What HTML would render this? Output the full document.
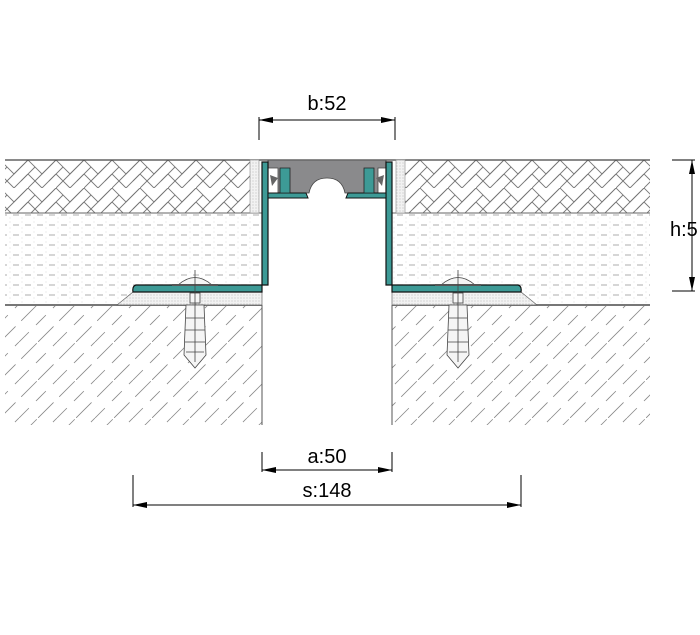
<!DOCTYPE html>
<html><head><meta charset="utf-8"><style>
html,body{margin:0;padding:0;background:#fff;width:700px;height:635px;overflow:hidden}
text{font-family:"Liberation Sans",sans-serif;font-size:20px;fill:#000}
</style></head><body>
<svg width="700" height="635" viewBox="0 0 700 635" xmlns="http://www.w3.org/2000/svg">
<defs>
<pattern id="herr" width="28" height="28" patternUnits="userSpaceOnUse" y="160">
<g stroke="#777" stroke-width="0.9" fill="none">
<path d="M0 0 L14 14 L28 0 M0 14 L14 28 L28 14"/>
<path d="M7 7 L0 14 M21 7 L28 0 M14 14 L21 7 M7 21 L14 14 M21 21 L28 14 M0 28 L7 21"/>
</g></pattern>
<pattern id="dots" width="12" height="10" patternUnits="userSpaceOnUse">
<line x1="1" y1="5" x2="7" y2="5" stroke="#bbb" stroke-width="1.2"/>
<circle cx="10" cy="2" r="0.5" fill="#ccc"/><circle cx="10" cy="8" r="0.5" fill="#ccc"/>
</pattern>
<pattern id="hatch" width="38" height="38" patternUnits="userSpaceOnUse">
<path d="M0 38 L38 0" stroke="#888" stroke-width="0.8" stroke-dasharray="22 8"/>
<path d="M-19 38 L19 0 M19 38 L57 0" stroke="#888" stroke-width="0.8" stroke-dasharray="14 10"/>
</pattern>
<pattern id="fine" width="3" height="3" patternUnits="userSpaceOnUse">
<rect width="3" height="3" fill="#f2f2f2"/><circle cx="1" cy="1" r="0.5" fill="#aaa"/>
</pattern>
<marker id="ar" markerWidth="14" markerHeight="6" refX="14" refY="3" orient="auto" markerUnits="userSpaceOnUse">
<path d="M0 0 L14 3 L0 6 Z" fill="#000"/></marker>
<marker id="al" markerWidth="14" markerHeight="6" refX="0" refY="3" orient="auto" markerUnits="userSpaceOnUse">
<path d="M14 0 L0 3 L14 6 Z" fill="#000"/></marker>
</defs>

<rect x="5" y="160" width="245" height="53" fill="url(#herr)"/>
<rect x="405" y="160" width="245" height="53" fill="url(#herr)"/>
<rect x="5" y="213" width="257" height="92" fill="url(#dots)"/>
<rect x="392" y="213" width="258" height="92" fill="url(#dots)"/>
<rect x="5" y="305" width="257" height="120" fill="url(#hatch)"/>
<rect x="392" y="305" width="258" height="120" fill="url(#hatch)"/>
<line x1="5" y1="160" x2="650" y2="160" stroke="#444" stroke-width="1.2"/>
<line x1="5" y1="213" x2="262" y2="213" stroke="#666" stroke-width="1"/>
<line x1="392" y1="213" x2="650" y2="213" stroke="#666" stroke-width="1"/>
<line x1="5" y1="305" x2="262" y2="305" stroke="#777" stroke-width="2"/>
<line x1="392" y1="305" x2="650" y2="305" stroke="#777" stroke-width="2"/>
<line x1="262" y1="305" x2="262" y2="425" stroke="#555"/>
<line x1="392" y1="305" x2="392" y2="425" stroke="#555"/>
<rect x="250" y="160" width="9" height="53" fill="url(#fine)" stroke="#888" stroke-width="0.6"/>
<rect x="396" y="160" width="9" height="53" fill="url(#fine)" stroke="#888" stroke-width="0.6"/>

<path d="M117 305 L133 292 L262 292 L262 305 Z" fill="url(#fine)" stroke="#666" stroke-width="0.7"/>
<path d="M537 305 L521 292 L392 292 L392 305 Z" fill="url(#fine)" stroke="#666" stroke-width="0.7"/>

<!-- gray insert -->
<path d="M268 160 L386 160 L386 168 L378 168 L378 193 L345 193 Q342 178 327 178 Q312 178 309 193 L278 193 L278 168 L268 168 Z" fill="#8a8a8c" stroke="#444" stroke-width="0.8"/>

<!-- teal profiles -->
<path d="M262 162 L268 162 L268 285 L136 285 Q132 286 133 292 L262 292 Z" fill="#3d9a96" stroke="#111" stroke-width="1.2"/>
<path d="M392 162 L386 162 L386 285 L518 285 Q522 286 521 292 L392 292 Z" fill="#3d9a96" stroke="#111" stroke-width="1.2"/>
<path d="M268 193 L306 193 L308 198 L268 198 Z" fill="#3d9a96" stroke="#111" stroke-width="1"/>
<path d="M386 193 L348 193 L346 198 L386 198 Z" fill="#3d9a96" stroke="#111" stroke-width="1"/>
<path d="M280 168 L290 168 L290 193 L280 193 Z M364 168 L374 168 L374 193 L364 193 Z" fill="#3d9a96" stroke="#222" stroke-width="0.8"/>
<path d="M270 175 L278 178 L272 186 Z M384 175 L376 178 L382 186 Z" fill="#666"/>

<!-- screws & anchors -->
<g stroke="#444" stroke-width="0.8" fill="#f5f5f5">
<path d="M178 285 Q195 270 212 285 Z"/>
<line x1="172" y1="285" x2="218" y2="285" stroke-width="2" stroke="#555"/>
<rect x="190" y="293" width="10" height="10"/>
<path d="M186 305 L204 305 L206 355 L195 368 L184 355 Z"/>
<path d="M186 318 L204 318 M185 330 L205 330 M185 342 L205 342 M186 352 L204 352" fill="none"/>
<line x1="195" y1="270" x2="195" y2="362" fill="none"/>
<path d="M441 285 Q458 270 475 285 Z"/>
<line x1="435" y1="285" x2="481" y2="285" stroke-width="2" stroke="#555"/>
<rect x="453" y="293" width="10" height="10"/>
<path d="M449 305 L467 305 L469 355 L458 368 L447 355 Z"/>
<path d="M449 318 L467 318 M448 330 L468 330 M448 342 L468 342 M449 352 L467 352" fill="none"/>
<line x1="458" y1="270" x2="458" y2="362" fill="none"/>
</g>

<g stroke="#000" stroke-width="1" fill="none">
<line x1="259" y1="117" x2="259" y2="140"/>
<line x1="395" y1="117" x2="395" y2="140"/>
<line x1="259" y1="120" x2="395" y2="120" marker-start="url(#al)" marker-end="url(#ar)"/>
<line x1="262" y1="452" x2="262" y2="472"/>
<line x1="392" y1="452" x2="392" y2="472"/>
<line x1="262" y1="470" x2="392" y2="470" marker-start="url(#al)" marker-end="url(#ar)"/>
<line x1="133" y1="475" x2="133" y2="507"/>
<line x1="521" y1="475" x2="521" y2="507"/>
<line x1="133" y1="505" x2="521" y2="505" marker-start="url(#al)" marker-end="url(#ar)"/>
<line x1="672" y1="160" x2="695" y2="160"/>
<line x1="672" y1="291" x2="695" y2="291"/>
<line x1="692" y1="160" x2="692" y2="291" marker-start="url(#al)" marker-end="url(#ar)"/>
</g>
<text x="327" y="110" text-anchor="middle">b:52</text>
<text x="327" y="463" text-anchor="middle">a:50</text>
<text x="327" y="497" text-anchor="middle">s:148</text>
<text x="670" y="236">h:5</text>
</svg>
</body></html>
